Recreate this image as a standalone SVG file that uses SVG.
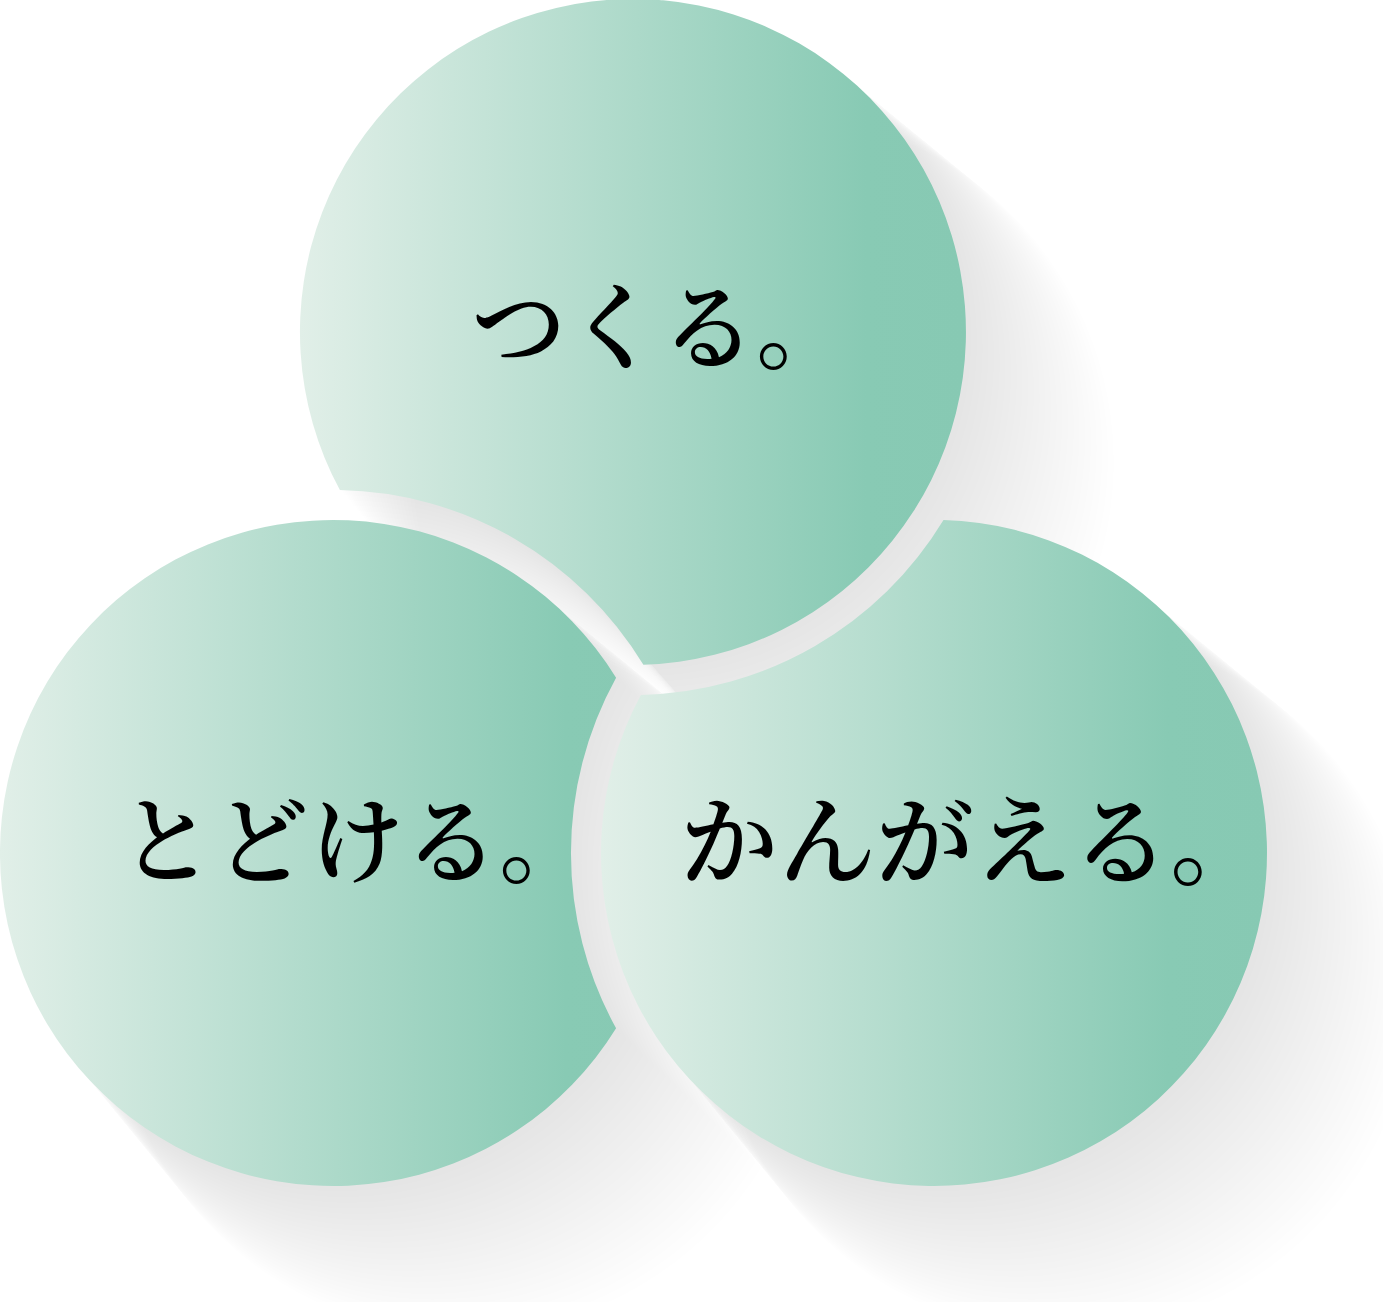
<svg xmlns="http://www.w3.org/2000/svg" xmlns:xlink="http://www.w3.org/1999/xlink" width="1383" height="1302" viewBox="0 0 1383 1302">
<style>
.sh{fill:#000;fill-opacity:0.004}
.lbl{font-family:"Noto Serif CJK JP","Noto Sans CJK JP",serif;fill:#000;font-weight:600}
</style>
<defs>
<linearGradient id="gT" gradientUnits="userSpaceOnUse" x1="300" y1="0" x2="966" y2="0">
<stop offset="0" stop-color="#e1efe8"/><stop offset="0.85" stop-color="#88cab4"/><stop offset="1" stop-color="#87c9b3"/>
</linearGradient>
<linearGradient id="gL" gradientUnits="userSpaceOnUse" x1="0" y1="0" x2="666" y2="0">
<stop offset="0" stop-color="#e1efe8"/><stop offset="0.85" stop-color="#88cab4"/><stop offset="1" stop-color="#87c9b3"/>
</linearGradient>
<linearGradient id="gR" gradientUnits="userSpaceOnUse" x1="601" y1="0" x2="1267" y2="0">
<stop offset="0" stop-color="#e1efe8"/><stop offset="0.85" stop-color="#88cab4"/><stop offset="1" stop-color="#87c9b3"/>
</linearGradient>
<path id="shapeT" d="M 339.9 490.1 A 333 333 0 1 1 643.4 664.8 A 363 363 0 0 0 339.9 490.1 Z"/>
<path id="shapeR" d="M 943.5 520.1 A 333 333 0 1 1 640.9 694.9 A 363 363 0 0 0 943.5 520.1 Z"/>
<path id="shapeL" d="M 616.1 677.7 A 333 333 0 1 0 616.1 1028.3 A 363 363 0 0 1 616.1 677.7 Z"/>
</defs>
<rect width="1383" height="1302" fill="#ffffff"/>
<g id="shadows">
<g id="shadow-T" class="sh">
<use xlink:href="#shapeT" transform="translate(3.67,4.30) scale(1.0021)"/>
<use xlink:href="#shapeT" transform="translate(7.34,8.61) scale(1.0042)"/>
<use xlink:href="#shapeT" transform="translate(11.01,12.91) scale(1.0063)"/>
<use xlink:href="#shapeT" transform="translate(14.68,17.21) scale(1.0084)"/>
<use xlink:href="#shapeT" transform="translate(18.35,21.51) scale(1.0105)"/>
<use xlink:href="#shapeT" transform="translate(22.02,25.82) scale(1.0126)"/>
<use xlink:href="#shapeT" transform="translate(25.69,30.12) scale(1.0147)"/>
<use xlink:href="#shapeT" transform="translate(29.37,34.42) scale(1.0168)"/>
<use xlink:href="#shapeT" transform="translate(33.04,38.73) scale(1.0189)"/>
<use xlink:href="#shapeT" transform="translate(36.71,43.03) scale(1.021)"/>
<use xlink:href="#shapeT" transform="translate(40.38,47.33) scale(1.0231)"/>
<use xlink:href="#shapeT" transform="translate(44.05,51.63) scale(1.0252)"/>
<use xlink:href="#shapeT" transform="translate(47.72,55.94) scale(1.0273)"/>
<use xlink:href="#shapeT" transform="translate(51.39,60.24) scale(1.0294)"/>
<use xlink:href="#shapeT" transform="translate(55.06,64.54) scale(1.0315)"/>
<use xlink:href="#shapeT" transform="translate(58.73,68.84) scale(1.0336)"/>
<use xlink:href="#shapeT" transform="translate(62.40,73.15) scale(1.0357)"/>
<use xlink:href="#shapeT" transform="translate(66.07,77.45) scale(1.0378)"/>
<use xlink:href="#shapeT" transform="translate(69.74,81.75) scale(1.0399)"/>
<use xlink:href="#shapeT" transform="translate(73.41,86.06) scale(1.042)"/>
<use xlink:href="#shapeT" transform="translate(77.08,90.36) scale(1.0441)"/>
<use xlink:href="#shapeT" transform="translate(80.76,94.66) scale(1.0462)"/>
<use xlink:href="#shapeT" transform="translate(84.43,98.96) scale(1.0483)"/>
<use xlink:href="#shapeT" transform="translate(88.10,103.27) scale(1.0504)"/>
<use xlink:href="#shapeT" transform="translate(91.77,107.57) scale(1.0525)"/>
<use xlink:href="#shapeT" transform="translate(95.44,111.87) scale(1.0546)"/>
</g>
<g id="shadow-L" class="sh">
<use xlink:href="#shapeL" transform="translate(4.30,3.21) scale(1.0021)"/>
<use xlink:href="#shapeL" transform="translate(8.60,6.42) scale(1.0042)"/>
<use xlink:href="#shapeL" transform="translate(12.90,9.63) scale(1.0063)"/>
<use xlink:href="#shapeL" transform="translate(17.20,12.83) scale(1.0084)"/>
<use xlink:href="#shapeL" transform="translate(21.50,16.04) scale(1.0105)"/>
<use xlink:href="#shapeL" transform="translate(25.80,19.25) scale(1.0126)"/>
<use xlink:href="#shapeL" transform="translate(30.10,22.46) scale(1.0147)"/>
<use xlink:href="#shapeL" transform="translate(34.41,25.67) scale(1.0168)"/>
<use xlink:href="#shapeL" transform="translate(38.71,28.88) scale(1.0189)"/>
<use xlink:href="#shapeL" transform="translate(43.01,32.09) scale(1.021)"/>
<use xlink:href="#shapeL" transform="translate(47.31,35.30) scale(1.0231)"/>
<use xlink:href="#shapeL" transform="translate(51.61,38.50) scale(1.0252)"/>
<use xlink:href="#shapeL" transform="translate(55.91,41.71) scale(1.0273)"/>
<use xlink:href="#shapeL" transform="translate(60.21,44.92) scale(1.0294)"/>
<use xlink:href="#shapeL" transform="translate(64.51,48.13) scale(1.0315)"/>
<use xlink:href="#shapeL" transform="translate(68.81,51.34) scale(1.0336)"/>
<use xlink:href="#shapeL" transform="translate(73.11,54.55) scale(1.0357)"/>
<use xlink:href="#shapeL" transform="translate(77.41,57.76) scale(1.0378)"/>
<use xlink:href="#shapeL" transform="translate(81.71,60.97) scale(1.0399)"/>
<use xlink:href="#shapeL" transform="translate(86.01,64.17) scale(1.042)"/>
<use xlink:href="#shapeL" transform="translate(90.31,67.38) scale(1.0441)"/>
<use xlink:href="#shapeL" transform="translate(94.62,70.59) scale(1.0462)"/>
<use xlink:href="#shapeL" transform="translate(98.92,73.80) scale(1.0483)"/>
<use xlink:href="#shapeL" transform="translate(103.22,77.01) scale(1.0504)"/>
<use xlink:href="#shapeL" transform="translate(107.52,80.22) scale(1.0525)"/>
<use xlink:href="#shapeL" transform="translate(111.82,83.43) scale(1.0546)"/>
</g>
<g id="shadow-R" class="sh">
<use xlink:href="#shapeR" transform="translate(3.04,3.21) scale(1.0021)"/>
<use xlink:href="#shapeR" transform="translate(6.08,6.42) scale(1.0042)"/>
<use xlink:href="#shapeR" transform="translate(9.12,9.63) scale(1.0063)"/>
<use xlink:href="#shapeR" transform="translate(12.15,12.83) scale(1.0084)"/>
<use xlink:href="#shapeR" transform="translate(15.19,16.04) scale(1.0105)"/>
<use xlink:href="#shapeR" transform="translate(18.23,19.25) scale(1.0126)"/>
<use xlink:href="#shapeR" transform="translate(21.27,22.46) scale(1.0147)"/>
<use xlink:href="#shapeR" transform="translate(24.31,25.67) scale(1.0168)"/>
<use xlink:href="#shapeR" transform="translate(27.35,28.88) scale(1.0189)"/>
<use xlink:href="#shapeR" transform="translate(30.39,32.09) scale(1.021)"/>
<use xlink:href="#shapeR" transform="translate(33.42,35.30) scale(1.0231)"/>
<use xlink:href="#shapeR" transform="translate(36.46,38.50) scale(1.0252)"/>
<use xlink:href="#shapeR" transform="translate(39.50,41.71) scale(1.0273)"/>
<use xlink:href="#shapeR" transform="translate(42.54,44.92) scale(1.0294)"/>
<use xlink:href="#shapeR" transform="translate(45.58,48.13) scale(1.0315)"/>
<use xlink:href="#shapeR" transform="translate(48.62,51.34) scale(1.0336)"/>
<use xlink:href="#shapeR" transform="translate(51.66,54.55) scale(1.0357)"/>
<use xlink:href="#shapeR" transform="translate(54.69,57.76) scale(1.0378)"/>
<use xlink:href="#shapeR" transform="translate(57.73,60.97) scale(1.0399)"/>
<use xlink:href="#shapeR" transform="translate(60.77,64.17) scale(1.042)"/>
<use xlink:href="#shapeR" transform="translate(63.81,67.38) scale(1.0441)"/>
<use xlink:href="#shapeR" transform="translate(66.85,70.59) scale(1.0462)"/>
<use xlink:href="#shapeR" transform="translate(69.89,73.80) scale(1.0483)"/>
<use xlink:href="#shapeR" transform="translate(72.93,77.01) scale(1.0504)"/>
<use xlink:href="#shapeR" transform="translate(75.97,80.22) scale(1.0525)"/>
<use xlink:href="#shapeR" transform="translate(79.00,83.43) scale(1.0546)"/>
</g>
</g>
<g id="node-tsukuru">
<use xlink:href="#shapeT" fill="url(#gT)"/>
<text class="lbl" x="471" y="362" font-size="95">つくる。</text>
</g>
<g id="node-kangaeru">
<use xlink:href="#shapeR" fill="url(#gR)"/>
<text class="lbl" x="680" y="877" font-size="98">かんがえる。</text>
</g>
<g id="node-todokeru">
<use xlink:href="#shapeL" fill="url(#gL)"/>
<text class="lbl" x="119" y="876" font-size="95">とどける。</text>
</g>
</svg>
